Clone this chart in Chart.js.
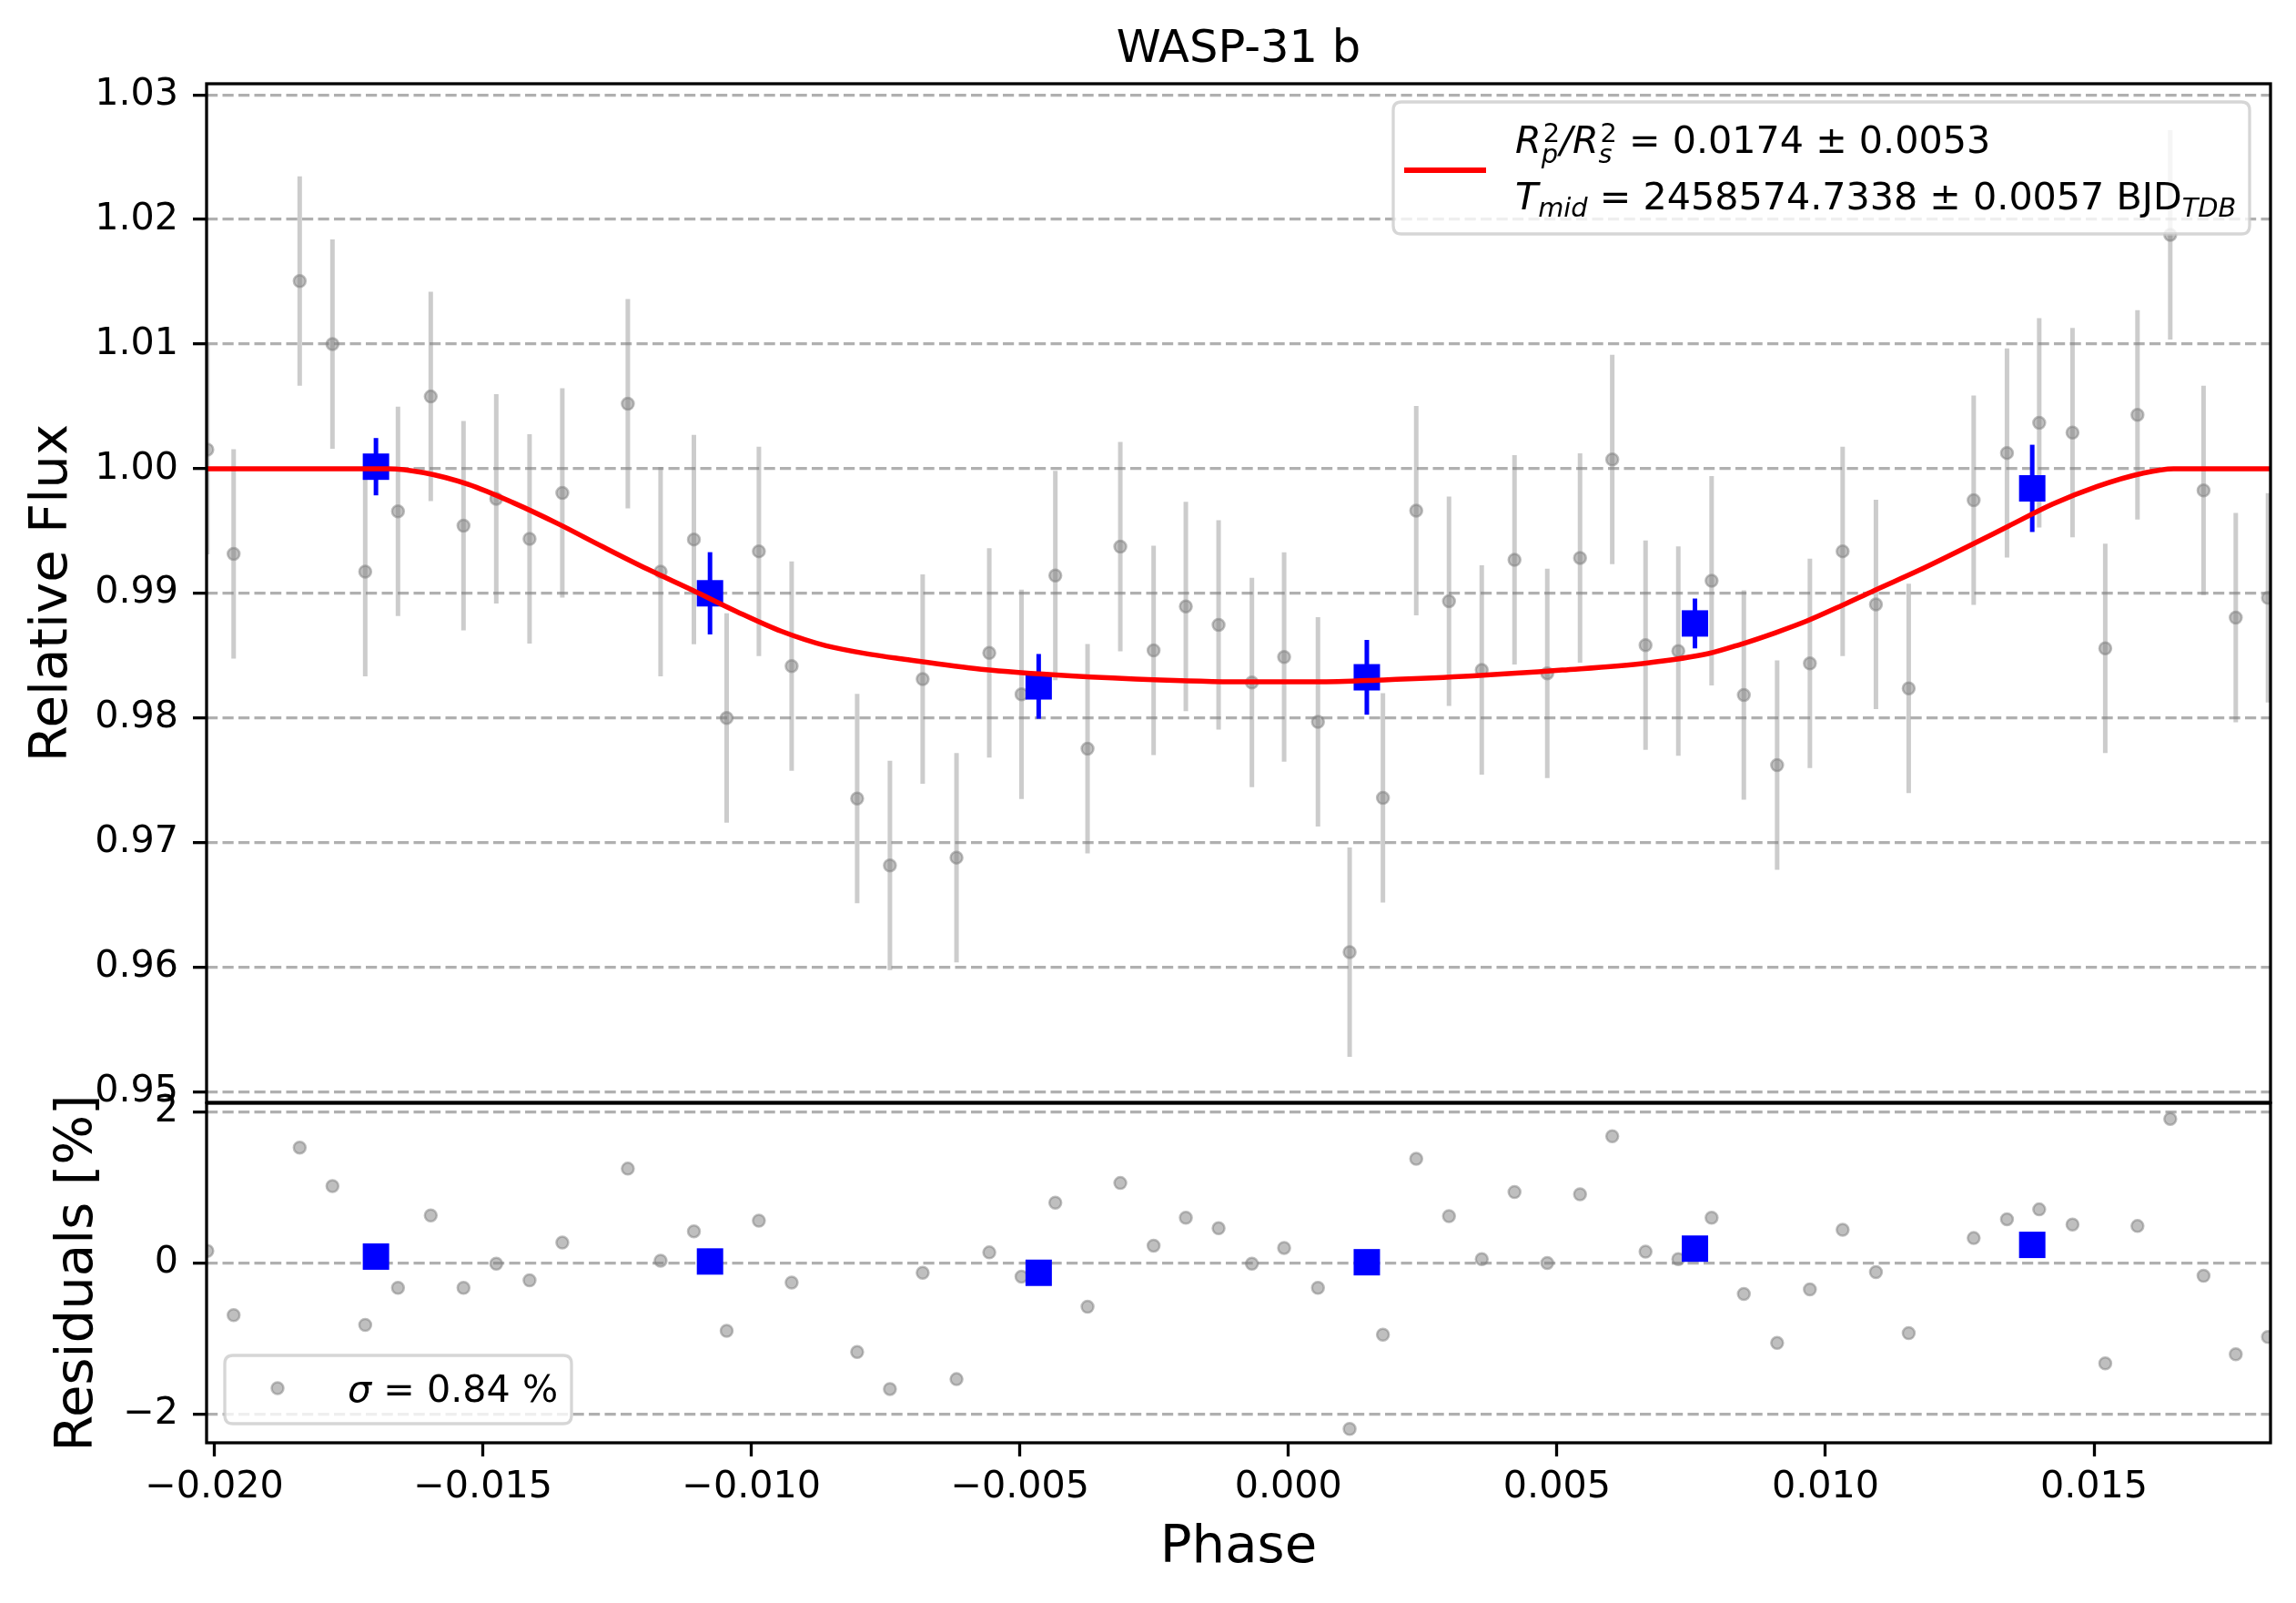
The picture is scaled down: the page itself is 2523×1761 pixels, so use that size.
<!DOCTYPE html>
<html><head><meta charset="utf-8">
<script src="https://cdn.jsdelivr.net/npm/chart.js@4.4.1/dist/chart.umd.min.js"></script>
<style>
html,body{margin:0;padding:0;background:#fff;width:2523px;height:1761px;overflow:hidden;}
canvas{position:absolute;left:0;}
#top{top:0;}
#res{top:1150px;}
</style></head><body>
<canvas id="top" width="2523" height="1260"></canvas>
<canvas id="res" width="2523" height="611"></canvas>
<script>
// ---------------- data ----------------
const phase = [-0.02013,-0.01964,-0.01841,-0.01780,-0.01719,-0.01658,-0.01597,-0.01536,-0.01475,-0.01413,
  -0.01352,-0.01230,-0.01169,-0.01107,-0.01046,-0.00986,-0.00925,-0.00803,-0.00742,-0.00681,
  -0.00618,-0.00557,-0.00497,-0.00434,-0.00374,-0.00313,-0.00251,-0.00191,-0.00130,-0.00068,
  -0.00008,0.00055,0.00114,0.00176,0.00238,0.00299,0.00360,0.00421,0.00482,0.00543,
  0.00603,0.00665,0.00726,0.00788,0.00848,0.00910,0.00971,0.01032,0.01094,0.01155,
  0.01276,0.01338,0.01398,0.01460,0.01521,0.01581,0.01642,0.01704,0.01764,0.01824];
const flux = [1.00153,0.99316,1.01505,1.01000,0.99174,0.99658,1.00579,0.99542,0.99758,0.99437,
  0.99805,1.00521,0.99174,0.99432,0.98000,0.99337,0.98416,0.97353,0.96816,0.98311,
  0.96879,0.98521,0.98189,0.99142,0.97753,0.99374,0.98542,0.98895,0.98747,0.98284,
  0.98489,0.97968,0.96121,0.97358,0.99663,0.98937,0.98384,0.99268,0.98358,0.99284,
  1.00074,0.98584,0.98537,0.99100,0.98184,0.97621,0.98437,0.99337,0.98911,0.98237,
  0.99747,1.00126,1.00368,1.00289,0.98558,1.00432,1.01876,0.99826,0.98805,0.98963];
const fluxErr = 0.0084; // every grey error bar has the same half-length
const residual = [0.16,-0.69,1.53,1.02,-0.82,-0.33,0.63,-0.33,-0.01,-0.23,
  0.27,1.25,0.03,0.42,-0.90,0.56,-0.26,-1.18,-1.67,-0.13,
  -1.54,0.14,-0.18,0.80,-0.58,1.06,0.23,0.60,0.46,-0.01,
  0.20,-0.33,-2.20,-0.95,1.38,0.62,0.05,0.94,0.00,0.91,
  1.68,0.15,0.05,0.60,-0.41,-1.06,-0.35,0.44,-0.12,-0.93,
  0.33,0.58,0.71,0.51,-1.33,0.49,1.91,-0.17,-1.21,-0.98];

const binPhase = [-0.01699,-0.01077,-0.00465,0.00146,0.00757,0.01385];
const binFlux  = [1.00016,0.99000,0.98253,0.98326,0.98758,0.99842];
const binErr   = [0.0023,0.0033,0.0026,0.0030,0.0020,0.0035];
const binResid = [0.085,0.02,-0.13,0.01,0.19,0.24];

const modelPhase = [-0.02015,-0.01676,-0.0161,-0.01527,-0.01443,-0.0136,-0.01277,-0.01194,-0.0111,-0.01027,
  -0.00944,-0.00861,-0.00778,-0.00721,-0.00572,-0.00405,-0.00239,-0.00073,0.00052,0.00177,
  0.00344,0.0051,0.00666,0.00782,0.00841,0.00907,0.00966,0.01032,0.0109,0.01174,
  0.01257,0.0134,0.01423,0.01506,0.0159,0.01648,0.0183];
const modelFlux = [1.0,1.0,0.99968,0.99874,0.99726,0.99558,0.99374,0.99195,0.99026,0.98853,
  0.98695,0.98579,0.9851,0.98474,0.9839,0.98337,0.98305,0.98289,0.98289,0.98305,
  0.98337,0.98384,0.9844,0.98516,0.98589,0.98684,0.98779,0.98905,0.99021,0.99184,
  0.99358,0.99537,0.99716,0.99858,0.99963,1.0,1.0];

const xTicks = [-0.020,-0.015,-0.010,-0.005,0.000,0.005,0.010,0.015];
const xTickLabels = ['\u22120.020','\u22120.015','\u22120.010','\u22120.005','0.000','0.005','0.010','0.015'];
const fluxTicks = [0.95,0.96,0.97,0.98,0.99,1.00,1.01,1.02,1.03];
const fluxTickLabels = ['0.95','0.96','0.97','0.98','0.99','1.00','1.01','1.02','1.03'];
const residTicks = [-2,0,2];
const residTickLabels = ['\u22122','0','2'];

const titleText = 'WASP-31 b';
const xTitle = 'Phase';
const yTitleTop = 'Relative Flux';
const yTitleRes = 'Residuals [%]';
const sigmaText = ' = 0.84 %';

// ---------------- styling ----------------
const FONT = '"DejaVu Sans", sans-serif';
const X_MIN = -0.020144, X_MAX = 0.018287;
const GRAY_FILL = 'rgba(128,128,128,0.5)';
const GRAY_BAR = 'rgba(128,128,128,0.4)';
const BLUE = '#0000ff';
const LW = 3.3;

function fontStr(size, italic) { return (italic ? 'italic ' : '') + size + 'px ' + FONT; }

function drawRuns(ctx, x, y, runs, base) {
  ctx.textAlign = 'left'; ctx.textBaseline = 'alphabetic'; ctx.fillStyle = '#000';
  for (const r of runs) {
    if (r.stack) {
      let w = 0;
      for (const s of r.stack) {
        ctx.font = fontStr(base * (s.s || 1), s.it);
        ctx.fillText(s.t, x + (s.dx || 0), y + (s.dy || 0));
        w = Math.max(w, ctx.measureText(s.t).width + (s.dx || 0));
      }
      x += w;
    } else {
      ctx.font = fontStr(base * (r.s || 1), r.it);
      ctx.fillText(r.t, x, y + (r.dy || 0));
      x += ctx.measureText(r.t).width;
    }
  }
}

function roundRect(ctx, x, y, w, h, r) {
  ctx.beginPath();
  ctx.moveTo(x + r, y);
  ctx.lineTo(x + w - r, y); ctx.quadraticCurveTo(x + w, y, x + w, y + r);
  ctx.lineTo(x + w, y + h - r); ctx.quadraticCurveTo(x + w, y + h, x + w - r, y + h);
  ctx.lineTo(x + r, y + h); ctx.quadraticCurveTo(x, y + h, x, y + h - r);
  ctx.lineTo(x, y + r); ctx.quadraticCurveTo(x, y, x + r, y);
  ctx.closePath();
}

function errorBarPlugin(sets) {
  return {
    id: 'errbars',
    beforeDatasetsDraw(chart) {
      const {ctx, chartArea: a, scales} = chart;
      const xs = scales.x, ys = scales.y;
      ctx.save();
      ctx.beginPath(); ctx.rect(a.left, a.top, a.right - a.left, a.bottom - a.top); ctx.clip();
      for (const s of sets) {
        ctx.strokeStyle = s.color; ctx.lineWidth = s.width; ctx.lineCap = 'butt';
        s.x.forEach((xv, i) => {
          const e = Array.isArray(s.err) ? s.err[i] : s.err;
          const px = xs.getPixelForValue(xv);
          ctx.beginPath();
          ctx.moveTo(px, ys.getPixelForValue(s.y[i] - e));
          ctx.lineTo(px, ys.getPixelForValue(s.y[i] + e));
          ctx.stroke();
        });
      }
      ctx.restore();
    }
  };
}

const framePlugin = {
  id: 'frame',
  afterDatasetsDraw(chart) {
    const {ctx, chartArea: a} = chart;
    ctx.save();
    ctx.strokeStyle = '#000'; ctx.lineWidth = LW;
    ctx.strokeRect(a.left, a.top, a.right - a.left, a.bottom - a.top);
    ctx.restore();
  }
};

const topDecor = {
  id: 'topDecor',
  afterDraw(chart) {
    const {ctx, chartArea: a} = chart;
    ctx.save();
    // title
    ctx.font = fontStr(49.5, false); ctx.fillStyle = '#000';
    ctx.textAlign = 'center'; ctx.textBaseline = 'alphabetic';
    ctx.fillText(titleText, (a.left + a.right) / 2, 68);
    // legend box
    roundRect(ctx, 1531, 112, 941, 145, 9);
    ctx.fillStyle = 'rgba(255,255,255,0.8)'; ctx.fill();
    ctx.strokeStyle = 'rgba(204,204,204,0.8)'; ctx.lineWidth = LW; ctx.stroke();
    // legend handle
    ctx.strokeStyle = '#ff0000'; ctx.lineWidth = 6; ctx.lineCap = 'butt';
    ctx.beginPath(); ctx.moveTo(1543, 187); ctx.lineTo(1633, 187); ctx.stroke();
    // legend text (mathtext-like)
    drawRuns(ctx, 1665, 168, [
      {t: 'R', it: true},
      {stack: [{t: '2', s: 0.7, dy: -12, dx: 2}, {t: 'p', it: true, s: 0.7, dy: 11}]},
      {t: '/', it: true},
      {t: 'R', it: true},
      {stack: [{t: '2', s: 0.7, dy: -12, dx: 2}, {t: 's', it: true, s: 0.7, dy: 11}]},
      {t: ' = 0.0174 \u00b1 0.0053'}
    ], 41.25);
    drawRuns(ctx, 1665, 230, [
      {t: 'T', it: true},
      {t: 'mid', it: true, s: 0.7, dy: 8},
      {t: ' = 2458574.7338 \u00b1 0.0057 BJD'},
      {t: 'TDB', it: true, s: 0.7, dy: 8}
    ], 41.25);
    ctx.restore();
  }
};

const resDecor = {
  id: 'resDecor',
  afterDraw(chart) {
    const {ctx} = chart;
    ctx.save();
    roundRect(ctx, 247, 339, 381, 75, 9);
    ctx.fillStyle = 'rgba(255,255,255,0.8)'; ctx.fill();
    ctx.strokeStyle = 'rgba(204,204,204,0.8)'; ctx.lineWidth = LW; ctx.stroke();
    // marker handle
    ctx.beginPath(); ctx.arc(305, 375, 6.5, 0, Math.PI * 2);
    ctx.fillStyle = GRAY_FILL; ctx.fill();
    ctx.strokeStyle = GRAY_FILL; ctx.lineWidth = 2.5; ctx.stroke();
    drawRuns(ctx, 382, 390, [{t: '\u03c3', it: true}, {t: sigmaText}], 41.25);
    ctx.restore();
  }
};

function xScale(display) {
  return {
    type: 'linear', min: X_MIN, max: X_MAX, display: display,
    afterBuildTicks: s => { s.ticks = xTicks.map(v => ({value: v})); },
    afterFit: s => { if (display) s.height = 176; },
    ticks: {callback: (v, i) => xTickLabels[i], font: {family: FONT, size: 41.25}, color: '#000',
            padding: 10, maxRotation: 0, minRotation: 0, autoSkip: false},
    grid: {drawOnChartArea: false, drawTicks: true, tickLength: 15, tickWidth: LW, tickColor: '#000'},
    border: {display: false},
    title: {display: display, text: xTitle, font: {family: FONT, size: 57.75}, color: '#000',
            padding: {top: 0, bottom: 25}}
  };
}

function yScale(min, max, ticks, labels, title, titlePad) {
  return {
    type: 'linear', min: min, max: max,
    afterBuildTicks: s => { s.ticks = ticks.map(v => ({value: v})); },
    afterFit: s => { s.width = 227; },
    ticks: {callback: (v, i) => labels[i], font: {family: FONT, size: 41.25}, color: '#000', padding: 16, autoSkip: false},
    grid: {color: '#b0b0b0', lineWidth: LW, drawTicks: true, tickLength: 15, tickWidth: LW, tickColor: '#000', tickBorderDash: []},
    border: {display: false, dash: [12.2, 5.3]},
    title: {display: true, text: title, font: {family: FONT, size: 57.75}, color: '#000',
            padding: {top: titlePad, bottom: 0}}
  };
}

const grayPoint = {
  pointRadius: 6.5, pointBackgroundColor: GRAY_FILL, pointBorderColor: GRAY_FILL,
  pointBorderWidth: 2.5, showLine: false, clip: 0
};
const bluePoint = {
  pointStyle: 'rect', pointRadius: 20.5, pointBackgroundColor: BLUE, pointBorderColor: BLUE,
  pointBorderWidth: 0, showLine: false, clip: 0
};

Chart.defaults.font.family = FONT;

new Chart(document.getElementById('top'), {
  type: 'scatter',
  data: {
    datasets: [
      Object.assign({label: 'data', data: phase.map((p, i) => ({x: p, y: flux[i]})), order: 3}, grayPoint),
      Object.assign({label: 'binned', data: binPhase.map((p, i) => ({x: p, y: binFlux[i]})), order: 2}, bluePoint),
      {label: 'model', data: modelPhase.map((p, i) => ({x: p, y: modelFlux[i]})), showLine: true,
       borderColor: '#ff0000', borderWidth: 5.5, pointRadius: 0, cubicInterpolationMode: 'monotone',
       fill: false, order: 1, clip: 0}
    ]
  },
  options: {
    responsive: false, animation: false, devicePixelRatio: 1, events: [],
    layout: {padding: {left: 0, right: 28, top: 92, bottom: 49}},
    plugins: {legend: {display: false}, tooltip: {enabled: false}, title: {display: false}},
    scales: {
      x: xScale(false),
      y: yScale(0.94915, 1.03089, fluxTicks, fluxTickLabels, yTitleTop, 23)
    }
  },
  plugins: [errorBarPlugin([
    {x: phase, y: flux, err: fluxErr, color: GRAY_BAR, width: 5},
    {x: binPhase, y: binFlux, err: binErr, color: BLUE, width: 5}
  ]), framePlugin, topDecor]
});

new Chart(document.getElementById('res'), {
  type: 'scatter',
  data: {
    datasets: [
      Object.assign({label: 'residuals', data: phase.map((p, i) => ({x: p, y: residual[i]})), order: 2}, grayPoint),
      Object.assign({label: 'binned residuals', data: binPhase.map((p, i) => ({x: p, y: binResid[i]})), order: 1}, bluePoint)
    ]
  },
  options: {
    responsive: false, animation: false, devicePixelRatio: 1, events: [],
    layout: {padding: {left: 0, right: 28, top: 62, bottom: 0}},
    plugins: {legend: {display: false}, tooltip: {enabled: false}, title: {display: false}},
    scales: {
      x: xScale(true),
      y: yScale(-2.383, 2.117, residTicks, residTickLabels, yTitleRes, 51)
    }
  },
  plugins: [framePlugin, resDecor]
});
</script></body></html>
